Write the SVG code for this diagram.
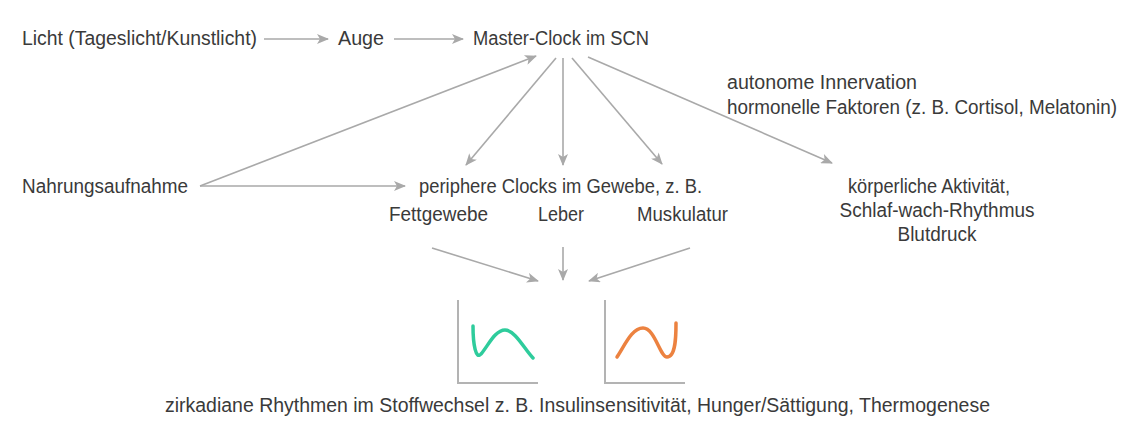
<svg xmlns="http://www.w3.org/2000/svg" width="1141" height="430" viewBox="0 0 1141 430">
<style>
text{font-family:"Liberation Sans",Arial,sans-serif;font-size:20px;fill:#3a3a3a}
.c{stroke:#a9a9a9;stroke-width:1.6;fill:none}
.ax{stroke:#b3b3b3;stroke-width:2;fill:none}
</style>
<defs>
<marker id="ah" viewBox="0 0 12 10" refX="11" refY="5" markerWidth="13" markerHeight="10" markerUnits="userSpaceOnUse" orient="auto">
<path d="M0,0 L12,5 L0,10 L3,5 Z" fill="#a9a9a9"/>
</marker>
</defs>
<rect width="1141" height="430" fill="#ffffff"/>
<g id="connectors">
<line class="c" x1="264" y1="39" x2="328" y2="39" marker-end="url(#ah)"/>
<line class="c" x1="394" y1="39" x2="463" y2="39" marker-end="url(#ah)"/>
<line class="c" x1="200" y1="186" x2="536" y2="56" marker-end="url(#ah)"/>
<line class="c" x1="200" y1="186" x2="405" y2="186" marker-end="url(#ah)"/>
<line class="c" x1="556" y1="58" x2="466" y2="165" marker-end="url(#ah)"/>
<line class="c" x1="563" y1="58" x2="563" y2="165" marker-end="url(#ah)"/>
<line class="c" x1="572" y1="58" x2="662" y2="164" marker-end="url(#ah)"/>
<line class="c" x1="588" y1="57" x2="832" y2="163" marker-end="url(#ah)"/>
<line class="c" x1="432" y1="248" x2="538" y2="281" marker-end="url(#ah)"/>
<line class="c" x1="563" y1="247" x2="563" y2="280" marker-end="url(#ah)"/>
<line class="c" x1="690" y1="248" x2="589" y2="281" marker-end="url(#ah)"/>
</g>
<g id="licht"><text x="22" y="45" textLength="235" lengthAdjust="spacingAndGlyphs">Licht (Tageslicht/Kunstlicht)</text></g>
<g id="auge"><text x="338" y="45" textLength="46" lengthAdjust="spacingAndGlyphs">Auge</text></g>
<g id="master"><text x="473" y="45" textLength="176" lengthAdjust="spacingAndGlyphs">Master-Clock im SCN</text></g>
<g id="faktoren">
<text x="727" y="89" textLength="190" lengthAdjust="spacingAndGlyphs">autonome Innervation</text>
<text x="727" y="114" textLength="390" lengthAdjust="spacingAndGlyphs">hormonelle Faktoren (z. B. Cortisol, Melatonin)</text>
</g>
<g id="nahrung"><text x="22" y="193" textLength="166" lengthAdjust="spacingAndGlyphs">Nahrungsaufnahme</text></g>
<g id="peripher">
<text x="419" y="193" textLength="283" lengthAdjust="spacingAndGlyphs">periphere Clocks im Gewebe, z. B.</text>
<text x="389" y="221" textLength="99" lengthAdjust="spacingAndGlyphs">Fettgewebe</text>
<text x="538" y="221" textLength="46" lengthAdjust="spacingAndGlyphs">Leber</text>
<text x="637" y="221" textLength="91" lengthAdjust="spacingAndGlyphs">Muskulatur</text>
</g>
<g id="koerper">
<text x="929" y="193" text-anchor="middle" textLength="162" lengthAdjust="spacingAndGlyphs">körperliche Aktivität,</text>
<text x="937" y="217" text-anchor="middle" textLength="195" lengthAdjust="spacingAndGlyphs">Schlaf-wach-Rhythmus</text>
<text x="937" y="241" text-anchor="middle" textLength="79" lengthAdjust="spacingAndGlyphs">Blutdruck</text>
</g>
<g id="chart-left">
<path class="ax" d="M458,300 V383 H538"/>
<path d="M473,326 C473,345 476,360 481,354 C488,346 495,330 505,330 C515,330 525,350 533,358" fill="none" stroke="#2ecc9c" stroke-width="3.5" stroke-linecap="round"/>
</g>
<g id="chart-right">
<path class="ax" d="M605,300 V383 H685"/>
<path d="M617,357 C625,345 632,328 643,328 C655,328 660,357 667,357 C676,357 676,335 676,323" fill="none" stroke="#ec8240" stroke-width="3.5" stroke-linecap="round"/>
</g>
<g id="rhythmen"><text x="165" y="412" textLength="825" lengthAdjust="spacingAndGlyphs">zirkadiane Rhythmen im Stoffwechsel z. B. Insulinsensitivität, Hunger/Sättigung, Thermogenese</text></g>
</svg>
